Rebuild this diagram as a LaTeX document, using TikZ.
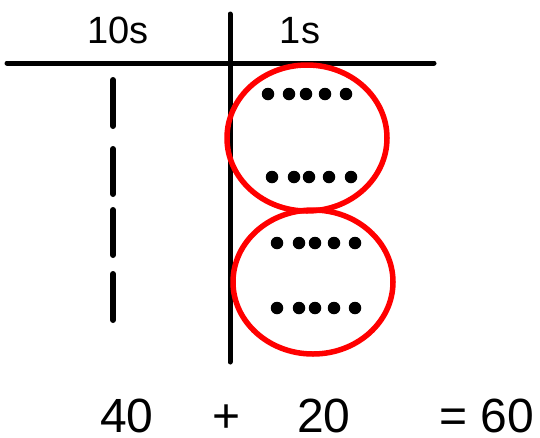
\documentclass[tikz,border=0pt]{standalone}
\usepackage{fontspec}
\setmainfont{Liberation Sans}
\usetikzlibrary{shapes.geometric}
\begin{document}
\begin{tikzpicture}[x=1pt,y=-1pt,
  blk/.style={line width=5pt,line cap=round},
  dsh/.style={line width=6pt,line cap=round},
  ring/.style={draw=red,line width=5.5pt},
  dot/.style={circle,fill=black,inner sep=0pt,minimum size=12.5pt},
  head/.style={anchor=base,inner sep=0pt,font=\fontsize{38}{40}\selectfont},
  foot/.style={anchor=base,inner sep=0pt,text depth=0pt,font=\fontsize{48}{50}\selectfont}]
\useasboundingbox (0,0) rectangle (540,437);
% axes
\coordinate (hl) at (7,63); \coordinate (hr) at (434,63);
\coordinate (vt) at (230,14); \coordinate (vb) at (230,362);
\draw[blk] (hl) -- (hr);
\draw[blk] (vt) -- (vb);
% headings
\node[head] (tens) at (118,43) {10s};
\node[head] (ones) at (300,43) {1s};
% tens dashes
\foreach \a/\b [count=\i] in {80/126,149/194,210/255,274/320}{
  \coordinate (d\i a) at (113,\a); \coordinate (d\i b) at (113,\b);
  \draw[dsh] (d\i a) -- (d\i b);
}
% rings
\node[ring,ellipse,minimum width=160pt,minimum height=146pt,inner sep=0pt] (r1) at (307,138) {};
\node[ring,ellipse,minimum width=160pt,minimum height=144pt,inner sep=0pt] (r2) at (313,282) {};
% dots
\foreach \x [count=\i] in {268,289,306,325,346}{\node[dot] (a\i) at (\x,94) {};}
\foreach \x [count=\i] in {272,294,309,329,351}{\node[dot] (b\i) at (\x,177) {};}
\foreach \x [count=\i] in {277,299,315,334,355}{\node[dot] (c\i) at (\x,243) {};}
\foreach \x [count=\i] in {277,299,315,334,355}{\node[dot] (e\i) at (\x,308) {};}
% sums
\node[foot] (forty) at (127,432) {40};
\node[foot] (plus) at (227,432) {+};
\node[foot] (twenty) at (324,432) {20};
\node[foot] (total) at (487,432) {= 60};
\end{tikzpicture}
\end{document}
